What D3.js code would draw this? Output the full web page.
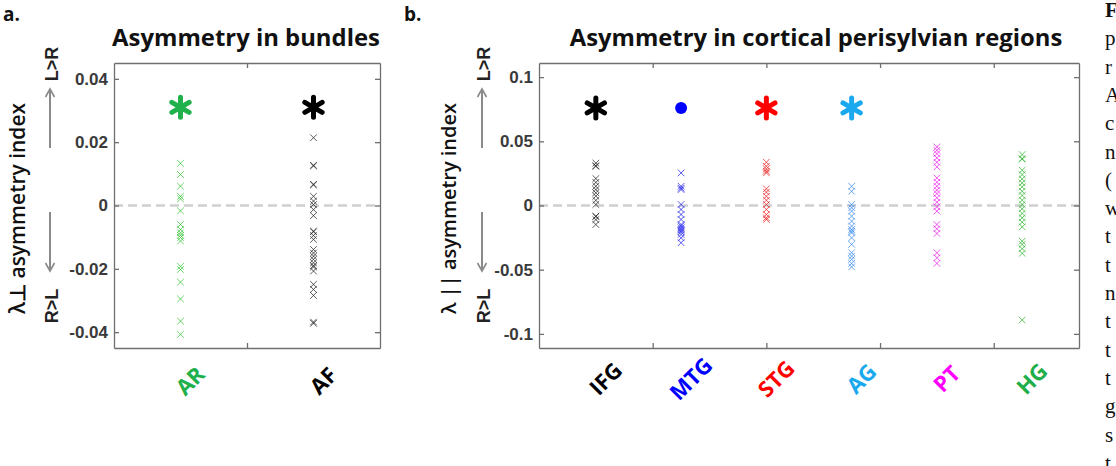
<!DOCTYPE html>
<html>
<head>
<meta charset="utf-8">
<script src="https://cdn.jsdelivr.net/npm/d3@7"></script>
<style>
  html, body { margin: 0; padding: 0; background: #fff; }
  svg { display: block; }
</style>
</head>
<body>
<script>
// ---- data ----
var bundleNames = ["AR", "AF"];
var bundleAR = [0.0133, 0.0098, 0.0061, 0.0029, 0.0021, -0.0017, -0.006, -0.0076, -0.0086, -0.0094,
                -0.0101, -0.0112, -0.0192, -0.0202, -0.0242, -0.0295, -0.0365, -0.0407];
var bundleAF = [0.0214, 0.0127, 0.0125, 0.0067, 0.0065, 0.0029, 0.0014, 0.0003, -0.0013, -0.0032,
                -0.0081, -0.0083, -0.0095, -0.0107, -0.0139, -0.015, -0.016, -0.017, -0.0181, -0.019,
                -0.0194, -0.0207, -0.0249, -0.0265, -0.0284, -0.0368, -0.0372];
var bundleTicks = [0.04, 0.02, 0, -0.02, -0.04];
var bundleSig = ["star", "star"];
var bundleSigValue = 0.031;

var regionNames = ["IFG", "MTG", "STG", "AG", "PT", "HG"];
var regionIFG = [0.033, 0.031, 0.0305, 0.021, 0.018, 0.015, 0.0124, 0.0099, 0.0073, 0.004, 0.0008,
                 -0.0083, -0.0086, -0.011, -0.0148];
var regionMTG = [0.0254, 0.015, 0.0135, 0.0124, 0.0008, -0.0031, -0.007, -0.0109, -0.0148, -0.016,
                 -0.0174, -0.0187, -0.0195, -0.0207, -0.0226, -0.0252, -0.029];
var regionSTG = [0.0337, 0.0306, 0.0285, 0.0267, 0.0254, 0.013, 0.0104, 0.0072, 0.0041, 0.0008,
                 -0.0031, -0.007, -0.0096, -0.0109];
var regionAG = [0.015, 0.0111, 0.0008, -0.0018, -0.0044, -0.0083, -0.0122, -0.016, -0.0187, -0.02,
                -0.0213, -0.0252, -0.0303, -0.0368, -0.0394, -0.042, -0.0451, -0.0478];
var regionPT = [0.0456, 0.043, 0.0404, 0.0371, 0.0337, 0.0301, 0.0215, 0.0181, 0.015, 0.0119, 0.0093,
                0.006, 0.0026, -0.001, -0.0044, -0.0148, -0.0181, -0.0218, -0.0368, -0.0407, -0.0451];
var regionHG = [0.0397, 0.0365, 0.0361, 0.0275, 0.0241, 0.0207, 0.0176, 0.0145, 0.0111, 0.0078, 0.0041,
                0.0008, -0.0026, -0.0062, -0.0096, -0.013, -0.0166, -0.0278, -0.0303, -0.0337, -0.0373,
                -0.0892];
var regionTicks = [0.1, 0.05, 0, -0.05, -0.1];
var regionSig = ["star", "dot", "star", "star", "", ""];
var regionSigValue = 0.076;

// first letters of the caption column cut off by the right edge
var captionLetters = ["F", "p", "r", "A", "c", "n", "(", "w", "t", "t", "n", "t", "t", "t", "g", "s", "t"];

// ---- styles ----
var bundleColors = ["#20b04c", "#000000"];
var bundleMarkColors = ["#35c435", "#262626"];
var regionColors = ["#000000", "#0000ff", "#ff0000", "#1aa9ee", "#ff00ff", "#1fae4a"];
var regionMarkColors = ["#262626", "#2222ee", "#ee2020", "#3a8cf0", "#ee20ee", "#30b530"];

var W = 1116, H = 466;
var svg = d3.select("body").append("svg").attr("width", W).attr("height", H);
svg.append("rect").attr("width", W).attr("height", H).attr("fill", "#fff");

var SANS = "'Open Sans', sans-serif";
var TICKFONT = "'Liberation Sans', Arial, sans-serif";

// shrink / grow a text element so it spans the given width
function fitWidth(sel, w) {
    var len = sel.node().getComputedTextLength();
    var fs = parseFloat(sel.attr("font-size"));
    sel.attr("font-size", fs * w / len);
}

function xMark(r) {
    return "M" + (-r) + "," + (-r) + "L" + r + "," + r + "M" + (-r) + "," + r + "L" + r + "," + (-r);
}

function asterisk(r) {
    var d = "";
    [90, 30, 150].forEach(function (a) {
        var t = a * Math.PI / 180;
        var dx = r * Math.cos(t), dy = r * Math.sin(t);
        d += "M" + (-dx) + "," + (-dy) + "L" + dx + "," + dy;
    });
    return d;
}

function arrow(g, x, y1, y2) {
    var dir = y2 < y1 ? 1 : -1;
    g.append("line").attr("x1", x).attr("x2", x).attr("y1", y1).attr("y2", y2)
        .attr("stroke", "#8a8a8a").attr("stroke-width", 2);
    g.append("path")
        .attr("d", "M" + (x - 4.5) + "," + (y2 + dir * 8) + "L" + x + "," + y2 + "L" + (x + 4.5) + "," + (y2 + dir * 8))
        .attr("fill", "none").attr("stroke", "#8a8a8a").attr("stroke-width", 1.6);
}

function drawPanel(cfg) {
    var g = svg.append("g");
    var x = d3.scaleLinear().domain(cfg.xDomain).range([cfg.x0, cfg.x1]);
    var y = d3.scaleLinear().domain(cfg.yDomain).range([cfg.y1, cfg.y0]);

    // zero line
    g.append("line")
        .attr("x1", cfg.x0).attr("x2", cfg.x1).attr("y1", y(0)).attr("y2", y(0))
        .attr("stroke", "#cfcfcf").attr("stroke-width", 2.5).attr("stroke-dasharray", "9,5");

    // subject markers
    cfg.series.forEach(function (vals, i) {
        var cx = x(i + 1);
        g.append("g").selectAll("path").data(vals).join("path")
            .attr("d", xMark(3.3))
            .attr("transform", function (d) { return "translate(" + cx + "," + y(d) + ")"; })
            .attr("fill", "none")
            .attr("stroke", cfg.markColors[i])
            .attr("stroke-width", 1)
            .attr("opacity", 0.75);
    });

    // significance markers
    cfg.sig.forEach(function (s, i) {
        var cx = x(i + 1), cy = y(cfg.sigValue);
        if (s == "star") {
            g.append("path").attr("d", asterisk(10))
                .attr("transform", "translate(" + cx + "," + cy + ")")
                .attr("stroke", cfg.colors[i]).attr("stroke-width", 5)
                .attr("stroke-linecap", "round").attr("fill", "none");
        } else if (s == "dot") {
            g.append("circle").attr("cx", cx).attr("cy", cy).attr("r", 6).attr("fill", cfg.colors[i]);
        }
    });

    // box axes with inward ticks
    var left = g.append("g").attr("transform", "translate(" + cfg.x0 + ",0)")
        .call(d3.axisLeft(y).tickValues(cfg.yTicks).tickSizeInner(-5).tickSizeOuter(0).tickPadding(6)
            .tickFormat(function (d) { return String(d); }));
    g.append("g").attr("transform", "translate(" + cfg.x1 + ",0)")
        .call(d3.axisRight(y).tickValues(cfg.yTicks).tickSizeInner(-5).tickSizeOuter(0).tickFormat(""));
    g.append("g").attr("transform", "translate(0," + cfg.y0 + ")")
        .call(d3.axisTop(x).tickValues(cfg.xTicks).tickSizeInner(-5).tickSizeOuter(0).tickFormat(""));
    g.append("g").attr("transform", "translate(0," + cfg.y1 + ")")
        .call(d3.axisBottom(x).tickValues(cfg.xTicks).tickSizeInner(-5).tickSizeOuter(0).tickFormat(""));
    g.selectAll(".domain, .tick line").attr("stroke", "#6f6f6f").attr("stroke-width", 1.3);
    left.selectAll("text")
        .attr("font-family", TICKFONT).attr("font-weight", "bold").attr("font-size", 17).attr("fill", "#3a3a3a");

    // category labels, rotated
    cfg.names.forEach(function (n, i) {
        g.append("text")
            .attr("transform", "translate(" + (x(i + 1) + 9) + "," + cfg.labelY + ") rotate(-45)")
            .attr("text-anchor", "middle").attr("dominant-baseline", "central")
            .attr("font-family", SANS).attr("font-weight", "bold").attr("font-size", 22)
            .attr("fill", cfg.colors[i]).text(n);
    });

    // title
    var t = g.append("text").attr("x", cfg.titleX).attr("y", 46)
        .attr("text-anchor", "middle").attr("font-family", SANS).attr("font-weight", "bold")
        .attr("font-size", 22).attr("fill", "#111").text(cfg.title);
    fitWidth(t, cfg.titleW);

    // panel letter
    g.append("text").attr("x", cfg.letterX).attr("y", 21)
        .attr("font-family", SANS).attr("font-weight", "bold").attr("font-size", 19)
        .attr("fill", "#111").text(cfg.letter);

    // y label
    var yl = g.append("text")
        .attr("transform", "translate(" + cfg.ylabelX + "," + ((cfg.y0 + cfg.y1) / 2 + 3) + ") rotate(-90)")
        .attr("text-anchor", "middle").attr("dominant-baseline", "central")
        .attr("font-family", SANS).attr("font-weight", 600).attr("font-size", 20)
        .attr("fill", "#111").text(cfg.ylabel);
    fitWidth(yl, 211);

    // direction hints
    var ax = cfg.arrowX;
    [["L>R", 64], ["R>L", 306]].forEach(function (p) {
        g.append("text")
            .attr("transform", "translate(" + (ax + 2) + "," + p[1] + ") rotate(-90)")
            .attr("text-anchor", "middle").attr("dominant-baseline", "central")
            .attr("font-family", TICKFONT).attr("font-weight", "bold").attr("font-size", 18)
            .attr("fill", "#222").text(p[0]);
    });
    arrow(g, ax, 148, 89);
    arrow(g, ax, 212, 271);
}

drawPanel({
    x0: 114, x1: 380, y0: 63, y1: 348,
    xDomain: [0.5, 2.5], yDomain: [-0.045, 0.045],
    xTicks: [1.5], yTicks: bundleTicks,
    names: bundleNames, series: [bundleAR, bundleAF],
    colors: bundleColors, markColors: bundleMarkColors,
    sig: bundleSig, sigValue: bundleSigValue,
    labelY: 380,
    title: "Asymmetry in bundles", titleX: 246, titleW: 268,
    letter: "a.", letterX: 3,
    ylabel: "λ⊥ asymmetry index", ylabelX: 17, arrowX: 50
});

drawPanel({
    x0: 539, x1: 1079, y0: 63, y1: 348,
    xDomain: [1 / 3, 20 / 3], yDomain: [-0.111, 0.111],
    xTicks: [5 / 3, 3, 13 / 3, 17 / 3], yTicks: regionTicks,
    names: regionNames,
    series: [regionIFG, regionMTG, regionSTG, regionAG, regionPT, regionHG],
    colors: regionColors, markColors: regionMarkColors,
    sig: regionSig, sigValue: regionSigValue,
    labelY: 378,
    title: "Asymmetry in cortical perisylvian regions", titleX: 816, titleW: 493,
    letter: "b.", letterX: 404,
    ylabel: "λ || asymmetry index", ylabelX: 448, arrowX: 482
});

// caption column cut off at the right edge
svg.append("g").selectAll("text").data(captionLetters).join("text")
    .attr("x", 1105)
    .attr("y", function (d, i) { return 17 + i * 28.3; })
    .attr("font-family", "'Liberation Serif', 'DejaVu Serif', serif")
    .attr("font-size", 21)
    .attr("font-weight", function (d, i) { return i == 0 ? "bold" : "normal"; })
    .attr("fill", "#111")
    .text(function (d) { return d; });
</script>
</body>
</html>
